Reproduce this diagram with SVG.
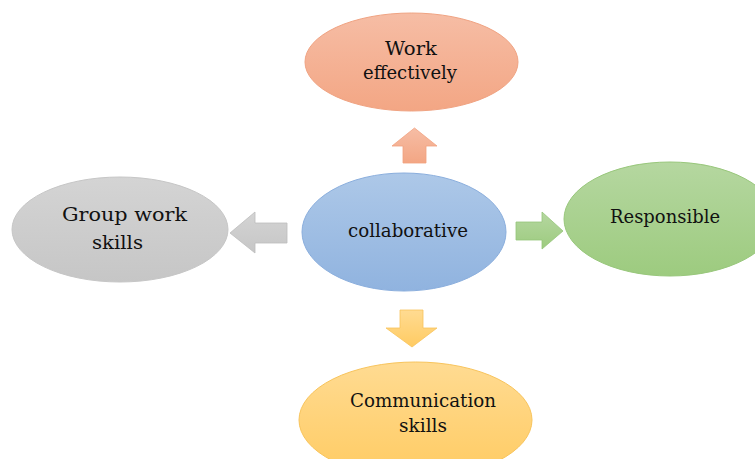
<svg xmlns="http://www.w3.org/2000/svg" width="755" height="459" viewBox="0 0 755 459">
<defs>
<linearGradient id="gO" x1="0" y1="0" x2="0" y2="1"><stop offset="0" stop-color="#f6bda5"/><stop offset="1" stop-color="#f3a684"/></linearGradient>
<linearGradient id="gB" x1="0" y1="0" x2="0" y2="1"><stop offset="0" stop-color="#adc8e8"/><stop offset="1" stop-color="#90b3df"/></linearGradient>
<linearGradient id="gG" x1="0" y1="0" x2="0" y2="1"><stop offset="0" stop-color="#b5d7a0"/><stop offset="1" stop-color="#9dcb7f"/></linearGradient>
<linearGradient id="gS" x1="0" y1="0" x2="0" y2="1"><stop offset="0" stop-color="#d4d4d4"/><stop offset="1" stop-color="#c6c6c6"/></linearGradient>
<linearGradient id="gY" x1="0" y1="0" x2="0" y2="1"><stop offset="0" stop-color="#ffdb92"/><stop offset="1" stop-color="#ffcb62"/></linearGradient>
</defs>
<style>
.t{font-family:"DejaVu Serif","Liberation Serif",serif;font-size:19px;fill:#111111;text-anchor:middle}
</style>
<rect width="755" height="459" fill="#ffffff"/>
<g id="connectors">
<polygon points="403,163 403,146 392,146 414.5,128 437,146 426,146 426,163" fill="url(#gO)" stroke="#f1a17f" stroke-width="0.8"/>
<polygon points="287,223 255,223 255,212 230,233 255,253 255,243 287,243" fill="url(#gS)" stroke="#bdbdbd" stroke-width="0.8"/>
<polygon points="516,222 542,222 542,212 563,231 542,249 542,240 516,240" fill="url(#gG)" stroke="#96c57a" stroke-width="0.8"/>
<polygon points="400,310 423,310 423,328 437,328 412,347 386,328 400,328" fill="url(#gY)" stroke="#f7c35a" stroke-width="0.8"/>
</g>
<g id="node-work">
<ellipse cx="411.5" cy="62" rx="106.5" ry="49" fill="url(#gO)" stroke="#f0a382" stroke-width="1"/>
<text class="t" x="411" y="55" textLength="52" lengthAdjust="spacingAndGlyphs">Work</text>
<text class="t" x="410" y="79" textLength="94" lengthAdjust="spacingAndGlyphs">effectively</text>
</g>
<g id="node-group">
<ellipse cx="120" cy="229.5" rx="108" ry="52.5" fill="url(#gS)" stroke="#c6c6c6" stroke-width="1"/>
<text class="t" x="124.5" y="221" textLength="125" lengthAdjust="spacingAndGlyphs">Group work</text>
<text class="t" x="117.5" y="249" textLength="51" lengthAdjust="spacingAndGlyphs">skills</text>
</g>
<g id="node-collaborative">
<ellipse cx="404" cy="232" rx="102" ry="59" fill="url(#gB)" stroke="#8aaedd" stroke-width="1"/>
<text class="t" x="408" y="237" textLength="120" lengthAdjust="spacingAndGlyphs">collaborative</text>
</g>
<g id="node-responsible">
<ellipse cx="670" cy="219" rx="106" ry="57" fill="url(#gG)" stroke="#98c77b" stroke-width="1"/>
<text class="t" x="665" y="223" textLength="110" lengthAdjust="spacingAndGlyphs">Responsible</text>
</g>
<g id="node-communication">
<ellipse cx="415.5" cy="420" rx="116.5" ry="58" fill="url(#gY)" stroke="#f8c45c" stroke-width="1"/>
<text class="t" x="423" y="407" textLength="146" lengthAdjust="spacingAndGlyphs">Communication</text>
<text class="t" x="423" y="432" textLength="48" lengthAdjust="spacingAndGlyphs">skills</text>
</g>
</svg>
